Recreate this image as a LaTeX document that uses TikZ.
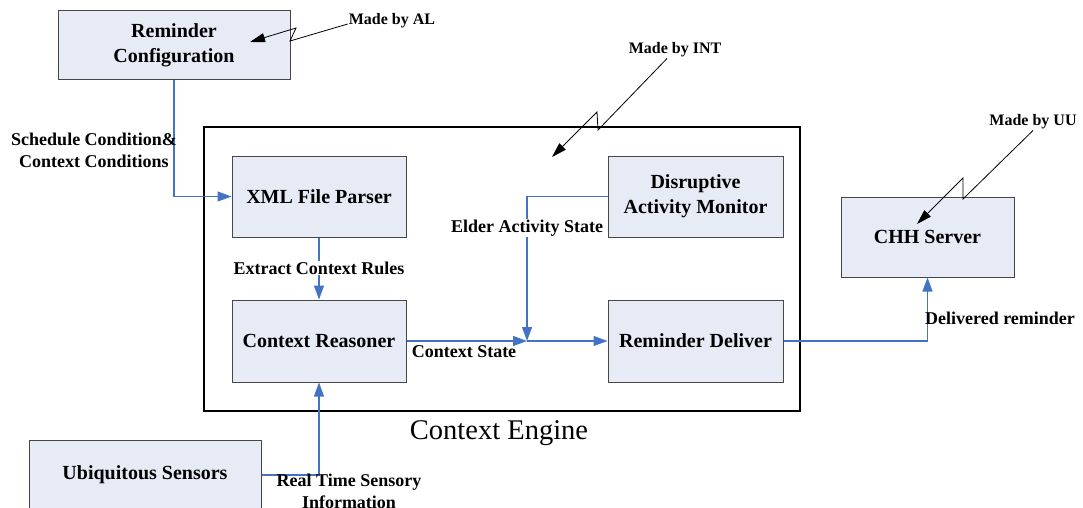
\documentclass[tikz,border=0pt]{standalone}
\usepackage{fontspec}
\setmainfont{Liberation Serif}
\usetikzlibrary{arrows.meta}
\definecolor{boxfill}{RGB}{230,235,245}
\definecolor{boxline}{RGB}{70,70,70}
\definecolor{flow}{RGB}{68,114,196}
\begin{document}
\begin{tikzpicture}[x=1pt,y=-1pt,
  blk/.style={draw=boxline, line width=1pt, fill=boxfill, font=\bfseries\fontsize{20}{25}\selectfont, align=center, inner sep=0pt},
  flowline/.style={draw=flow, line width=1.1pt},
  flowarr/.style={flowline, -{Triangle[length=14pt,width=10pt]}},
  lbl/.style={font=\bfseries\fontsize{18}{22}\selectfont, align=center, inner sep=1pt},
  note/.style={font=\bfseries\fontsize{16}{19}\selectfont, inner sep=1pt},
  notearr/.style={draw=black, line width=0.8pt, -{Triangle[length=15pt,width=9pt]}}]
\clip (0,0) rectangle (1083,508);
\fill[white] (0,0) rectangle (1083,508);
% outer engine box
\draw[black, line width=1.4pt] (204,127) rectangle (800,411);
\node[font=\fontsize{28.5}{32}\selectfont, inner sep=0pt] (eng) at (499,433) {Context Engine};
% blocks
\node[blk, minimum width=232pt, minimum height=69pt] (rc) at (174,45.5) {Reminder\\Configuration};
\node[blk, minimum width=174pt, minimum height=81pt] (xml) at (319,196.5) {XML File Parser};
\node[blk, minimum width=175pt, minimum height=81pt] (dam) at (695.5,196.5) {Disruptive\\Activity Monitor};
\node[blk, minimum width=174pt, minimum height=82pt] (cr) at (319,341) {Context Reasoner};
\node[blk, minimum width=175pt, minimum height=82pt] (rd) at (695.5,341) {Reminder Deliver};
\node[blk, minimum width=173pt, minimum height=80pt] (chh) at (927.5,237) {CHH Server};
\node[blk, minimum width=232pt, minimum height=70pt] (us) at (145,475) {Ubiquitous Sensors};
% junction
\coordinate (J) at (527,341);
% flows
\draw[flowarr] (rc.south) |- (xml.west);
\draw[flowarr] (xml.south) -- (cr.north);
\node[lbl, fill=white] (ext) at (319,268) {Extract Context Rules};
\draw[flowarr] (cr.east) -- (J);
\draw[flowarr] (dam.west) -| (J);
\node[lbl, fill=white] (eas) at (527,228) {Elder Activity State};
\draw[flowarr] (J) -- (rd.west);
\node[lbl] (cs) at (464,352) {Context State};
\draw[flowarr] (rd.east) -| (chh.south);
\node[lbl] (dr) at (1000,318) {Delivered reminder};
\draw[flowarr] (us.east) -| (cr.south);
\node[lbl] (rt) at (349,491) {Real Time Sensory\\Information};
\node[lbl] (sc) at (94,150) {Schedule Condition\&\\Context Conditions};
% notes
\node[note] (al) at (392,21) {Made by AL};
\node[note] (int) at (675,50) {Made by INT};
\node[note] (uu) at (1033,122) {Made by UU};
\coordinate (alT) at (250,42);
\coordinate (intT) at (552,157);
\coordinate (uuT) at (917,224);
\draw[notearr] ([yshift=-3pt]al.west) -- (290,41) -- (296,28) -- (alT);
\draw[notearr] ([xshift=-8pt]int.south) -- (598,130) -- (597,112) -- (intT);
\draw[notearr] (uu.south) -- (963,199) -- (963,178) -- (uuT);
\end{tikzpicture}
\end{document}
